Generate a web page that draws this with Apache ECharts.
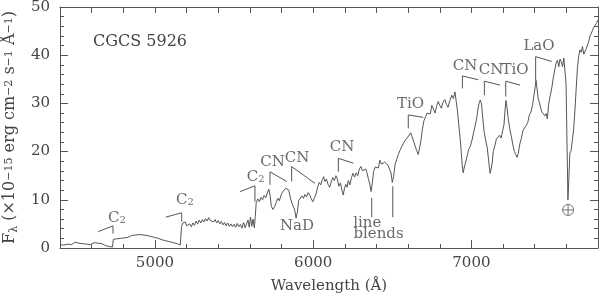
<!DOCTYPE html>
<html>
<head>
<meta charset="utf-8">
<script src="https://cdn.jsdelivr.net/npm/echarts@6/dist/echarts.min.js"></script>
<style>html,body{margin:0;padding:0;background:#fff}#c{width:600px;height:294px}</style>
</head>
<body>
<div id="c"></div>
<script>
// Spectrum of CGCS 5926 (wavelength in Å, flux in 1e-15 erg cm^-2 s^-1 Å^-1)
const wavelength = [4400,4412,4424,4436,4448,4460,4472,4484,4496,4508,4520,4532,4544,4556,4568,4580,4592,4604,4616,4628,4640,4652,4664,4676,4688,4700,4712,4724,4732,
4737,4745,4757,4769,4781,4793,4805,4817,4829,4841,4853,4865,4877,4889,4901,4913,4925,4937,4949,4961,4973,4985,4997,5009,5021,5033,5045,5057,5069,5081,5093,5105,5117,5129,5141,5153,5160,
5164,5168,5176,5184,5192,5200,5210,5220,5230,5240,5250,5260,5270,5280,5290,5300,5310,5320,5330,5340,5350,5360,5370,5380,5390,5400,5410,5420,5430,5440,5450,5460,5470,5480,5490,5500,5510,5520,5530,5540,5550,5560,5570,5580,5588,5596,5604,5612,5620,5628,5634,
5640,5650,5660,5670,5680,5690,5700,5710,5720,5728,5736,5746,5756,5766,5776,5786,5796,5806,5816,5826,5836,5846,5856,5866,5876,5884,5892,5900,5908,5918,5928,5938,5948,5958,5968,5978,5988,5998,
6008,6018,6028,6038,6048,6058,6066,6074,6084,6094,6104,6114,6124,6134,6144,6152,6162,6172,6182,6190,6198,6206,6214,6222,6232,6242,6252,6262,6272,6282,6292,6302,6312,6322,6332,6340,6350,6358,6366,6374,6382,6392,
6402,6412,6422,6432,6442,6452,6462,6472,6482,6492,6500,6508,6518,6528,6538,6548,6558,6568,6578,6588,6598,6608,6616,6624,6634,6644,6654,6664,6672,6680,6690,6700,6710,6720,6730,6740,6750,6760,6770,6780,6790,6800,
6810,6820,6832,6842,6852,6864,6876,6886,6896,6904,6912,6920,6928,6936,6942,6948,6954,6962,6972,6982,6994,7004,7014,7024,7034,7042,7050,7056,7064,7072,7080,7090,7100,7110,7118,7126,7132,7138,7148,7158,7168,7178,7188,7198,
7206,7212,7218,7224,7232,7242,7252,7262,7272,7280,7288,7296,7306,7316,7326,7336,7346,7356,7366,7376,7386,7396,7404,7408,7414,7422,7430,7438,7446,7456,7464,7472,7480,7488,7498,7508,7518,7528,7536,7544,7552,7560,7568,7576,7584,7592,
7598,7604,7610,7616,7622,7630,7638,7646,7654,7662,7670,7678,7686,7694,7702,7710,7718,7726,7734,7742,7750,7758,7766,7774,7782,7790,7800];
const flux = [0.7,0.9,0.6,1.0,0.8,1.1,0.7,0.9,1.2,0.8,1.0,0.7,0.9,0.6,0.8,1.0,0.7,0.9,1.1,0.8,1.0,0.7,0.9,0.6,0.5,0.6,0.3,0.4,0.2,
1.8,2.1,1.9,2.3,2.0,2.4,2.1,2.5,2.2,2.4,2.6,2.3,2.7,2.4,2.8,2.5,2.7,2.9,2.6,2.8,2.4,2.6,2.2,2.4,2.0,2.1,1.7,1.9,1.5,1.6,1.3,1.4,1.1,1.2,0.9,0.8,0.6,
2.5,4.4,5.2,4.8,5.4,4.6,4.3,5.0,4.4,5.2,4.7,5.6,5.0,5.8,5.2,5.9,5.4,6.1,5.6,6.3,5.7,6.0,5.4,5.9,5.2,5.7,5.0,5.5,4.8,5.3,4.6,5.2,4.5,5.0,4.4,4.9,4.3,5.1,4.4,4.9,4.1,5.3,4.2,4.0,5.8,4.3,6.4,4.5,6.0,4.2,6.5,
9.4,10.2,9.6,10.5,10.0,10.9,10.4,11.4,12.2,10.8,8.6,8.0,8.6,9.4,10.3,9.8,10.9,11.6,11.2,12.4,12.7,12.0,10.4,9.3,9.0,7.8,6.2,7.4,9.8,10.2,10.8,10.3,11.1,10.6,11.5,11.0,10.2,9.6,
10.4,11.2,12.6,13.6,13.1,14.2,14.8,13.8,14.3,13.2,12.6,13.7,14.6,14.0,15.0,14.4,12.8,13.5,12.0,11.0,12.4,13.2,12.6,14.0,13.1,14.6,15.5,14.7,15.6,15.0,16.4,16.9,16.0,15.8,16.4,15.6,14.2,13.2,11.7,13.6,15.9,16.8,
17.2,16.6,18.2,17.4,17.0,17.8,18.0,17.2,16.4,15.6,13.6,14.8,17.4,18.4,19.4,20.2,20.6,21.6,22.2,21.8,23.0,23.4,23.9,23.2,22.2,21.2,20.2,19.4,19.8,22.0,24.6,26.4,27.2,28.0,28.4,27.8,29.6,28.8,28.0,29.4,30.4,29.6,
29.0,30.2,30.8,29.8,29.2,30.6,31.7,31.0,32.4,30.4,28.4,25.6,23.0,19.8,17.2,15.6,16.6,17.6,18.9,20.4,21.2,22.4,24.0,25.4,27.0,29.0,30.2,30.7,29.9,26.8,24.2,22.4,20.8,17.8,15.5,16.6,17.8,20.0,21.2,22.6,22.2,23.4,22.8,24.4,
25.6,28.4,30.6,29.4,27.0,24.8,23.2,21.4,20.0,19.4,18.8,19.6,21.6,22.8,24.4,24.0,25.4,26.0,27.6,28.2,29.6,31.8,33.6,34.9,33.2,31.0,30.2,29.0,28.2,28.6,27.4,27.9,26.8,29.8,31.6,33.2,35.4,37.2,38.4,39.0,37.6,39.2,38.6,37.6,39.4,39.8,
34.2,22.0,10.0,14.6,19.6,20.2,22.4,24.6,28.4,33.0,37.4,39.8,41.1,40.6,41.8,40.2,40.8,41.4,41.8,42.9,44.0,43.6,45.2,45.8,45.4,46.6,47.3];

// Band-head markers (data units)
const bandHead = [4735, 5169, 5632, 5727, 5864, 6159, 6601, 6943, 7082, 7217, 7406];
const bandTop = [4.6, 7.3, 12.9, 15.8, 16.9, 18.6, 27.6, 35.7, 34.6, 34.6, 39.7];
const bandBottom = [3.0, 5.5, 9.6, 13.1, 13.8, 15.8, 24.8, 33.1, 31.7, 31.4, 34.9];
const bandEnd = [4642, 5068, 5538, 5833, 6012, 6254, 6696, 7044, 7181, 7307, 7507];
const bandEndValue = [3.4, 6.4, 11.7, 13.8, 13.4, 17.6, 27.1, 34.9, 33.8, 33.8, 38.7];
const bandName = ['C2', 'C2', 'C2', 'CN', 'CN', 'CN', 'TiO', 'CN', 'CN', 'TiO', 'LaO'];
const bandLabelX = [4760, 5190, 5636, 5743, 5898, 6182, 6615, 6960, 7124, 7276, 7427];
const bandLabelY = [6.3, 10.0, 14.7, 17.8, 18.7, 20.9, 29.9, 37.8, 36.9, 36.9, 41.9];

// Line-blend markers
const blendX = [6370, 6503];
const blendTop = [10.4, 12.8];
const blendBottom = [6.4, 6.4];

// Other texts
const noteText = ['NaD', 'line', 'blends'];
const noteX = [5898, 6342, 6413];
const noteY = [4.5, 5.2, 2.8];
const earthX = 7611, earthY = 7.9;

const xTickLabels = [5000, 6000, 7000];
const title = 'CGCS 5926';

const FONT = 'DejaVu Serif';
const TXT = '#444';
const LINE = '#555';

const chart = echarts.init(document.getElementById('c'), null, {renderer: 'canvas'});

const richMain = {
  m: {fontSize: 15, fontFamily: FONT, color: TXT, lineHeight: 15, verticalAlign: 'top', padding: [0, 0, 3, 0]},
  s: {fontSize: 10, fontFamily: FONT, color: TXT, lineHeight: 10, verticalAlign: 'bottom'}
};

const series = [];
series.push({
  type: 'line', xAxisIndex: 0, yAxisIndex: 0, showSymbol: false, symbol: 'none',
  data: wavelength.map((w, i) => [w, flux[i]]),
  lineStyle: {color: LINE, width: 1}, silent: true, z: 3
});
bandHead.forEach((h, i) => {
  series.push({
    type: 'line', xAxisIndex: 0, yAxisIndex: 0, symbol: 'none', silent: true,
    data: [[bandEnd[i], bandEndValue[i]], [h, bandTop[i]], [h, bandBottom[i]]],
    lineStyle: {color: LINE, width: 1}
  });
});
blendX.forEach((b, i) => {
  series.push({
    type: 'line', xAxisIndex: 0, yAxisIndex: 0, symbol: 'none', silent: true,
    data: [[b, blendTop[i]], [b, blendBottom[i]]],
    lineStyle: {color: LINE, width: 1}
  });
});
const labelData = bandName.map((n, i) => ({
  value: [bandLabelX[i], bandLabelY[i]],
  label: {formatter: n === 'C2' ? '{m|C}{s|2}' : '{m|' + n + '}'}
})).concat(noteText.map((t, i) => ({
  value: [noteX[i], noteY[i]],
  label: {formatter: '{m|' + t + '}'}
})));
series.push({
  type: 'scatter', xAxisIndex: 0, yAxisIndex: 0, silent: true,
  symbolSize: 1, itemStyle: {color: 'rgba(0,0,0,0)'},
  data: labelData,
  label: {show: true, position: 'inside', rich: richMain}
});
series.push({
  type: 'scatter', xAxisIndex: 0, yAxisIndex: 0, silent: true,
  symbol: 'path://M0,-10A10,10 0 1,1 0,10A10,10 0 1,1 0,-10ZM-10,0L10,0M0,-10L0,10',
  symbolSize: 11,
  itemStyle: {color: 'rgba(0,0,0,0)', borderColor: LINE, borderWidth: 1},
  data: [[earthX, earthY]]
});

const baseX = {type: 'value', min: 4400, max: 7800, interval: 200, splitLine: {show: false}};
const baseY = {type: 'value', min: 0, max: 50, interval: 10, splitLine: {show: false}};

chart.setOption({
  animation: false,
  backgroundColor: '#fff',
  grid: {left: 60, right: 2, top: 7, bottom: 46, containLabel: false, outerBoundsMode: 'none'},
  graphic: [{
    type: 'text', left: 93, top: 34,
    style: {text: title, font: '16px "DejaVu Serif"', fill: TXT}
  }],
  xAxis: [
    Object.assign({}, baseX, {
      position: 'bottom',
      axisLine: {show: true, lineStyle: {color: LINE}},
      axisTick: {show: true, inside: true, length: 4, lineStyle: {color: LINE}},
      axisLabel: {show: false}
    }),
    Object.assign({}, baseX, {
      position: 'bottom',
      axisLine: {show: false},
      axisTick: {show: true, inside: true, length: 8, customValues: xTickLabels, lineStyle: {color: LINE}},
      axisLabel: {show: true, customValues: xTickLabels, formatter: v => String(v), fontFamily: FONT, fontSize: 15, color: TXT, margin: 8},
      name: 'Wavelength (Å)', nameLocation: 'middle', nameGap: 31,
      nameTextStyle: {fontFamily: FONT, fontSize: 15, color: TXT}
    }),
    Object.assign({}, baseX, {
      position: 'top',
      axisLine: {show: true, lineStyle: {color: LINE}},
      axisTick: {show: true, inside: true, length: 6, lineStyle: {color: LINE}},
      axisLabel: {show: false}
    })
  ],
  yAxis: [
    Object.assign({}, baseY, {
      position: 'left',
      axisLine: {show: true, lineStyle: {color: LINE}},
      axisTick: {show: true, inside: true, length: 8, lineStyle: {color: LINE}},
      minorTick: {show: true, splitNumber: 5, length: 4, lineStyle: {color: LINE}},
      axisLabel: {show: true, formatter: v => String(v), fontFamily: FONT, fontSize: 15, color: TXT, margin: 10},
      name: '{a|F}{b|λ}{a| (×10}{c|−15}{a| erg cm}{c|−2}{a| s}{c|−1}{a| Å}{c|−1}{a|)}',
      nameLocation: 'middle', nameRotate: 90, nameGap: 38,
      nameTextStyle: {
        rich: {
          a: {fontFamily: FONT, fontSize: 16, color: TXT, lineHeight: 16, verticalAlign: 'bottom', padding: [3, 0, 2, 0]},
          b: {fontFamily: FONT, fontSize: 11, color: TXT, lineHeight: 11, verticalAlign: 'bottom'},
          c: {fontFamily: FONT, fontSize: 11, color: TXT, lineHeight: 11, verticalAlign: 'top'}
        }
      }
    }),
    Object.assign({}, baseY, {
      position: 'right',
      axisLine: {show: true, lineStyle: {color: LINE}},
      axisTick: {show: true, inside: true, length: 8, lineStyle: {color: LINE}},
      minorTick: {show: true, splitNumber: 5, length: 4, lineStyle: {color: LINE}},
      axisLabel: {show: false}
    })
  ],
  series: series
});
</script>
</body>
</html>
